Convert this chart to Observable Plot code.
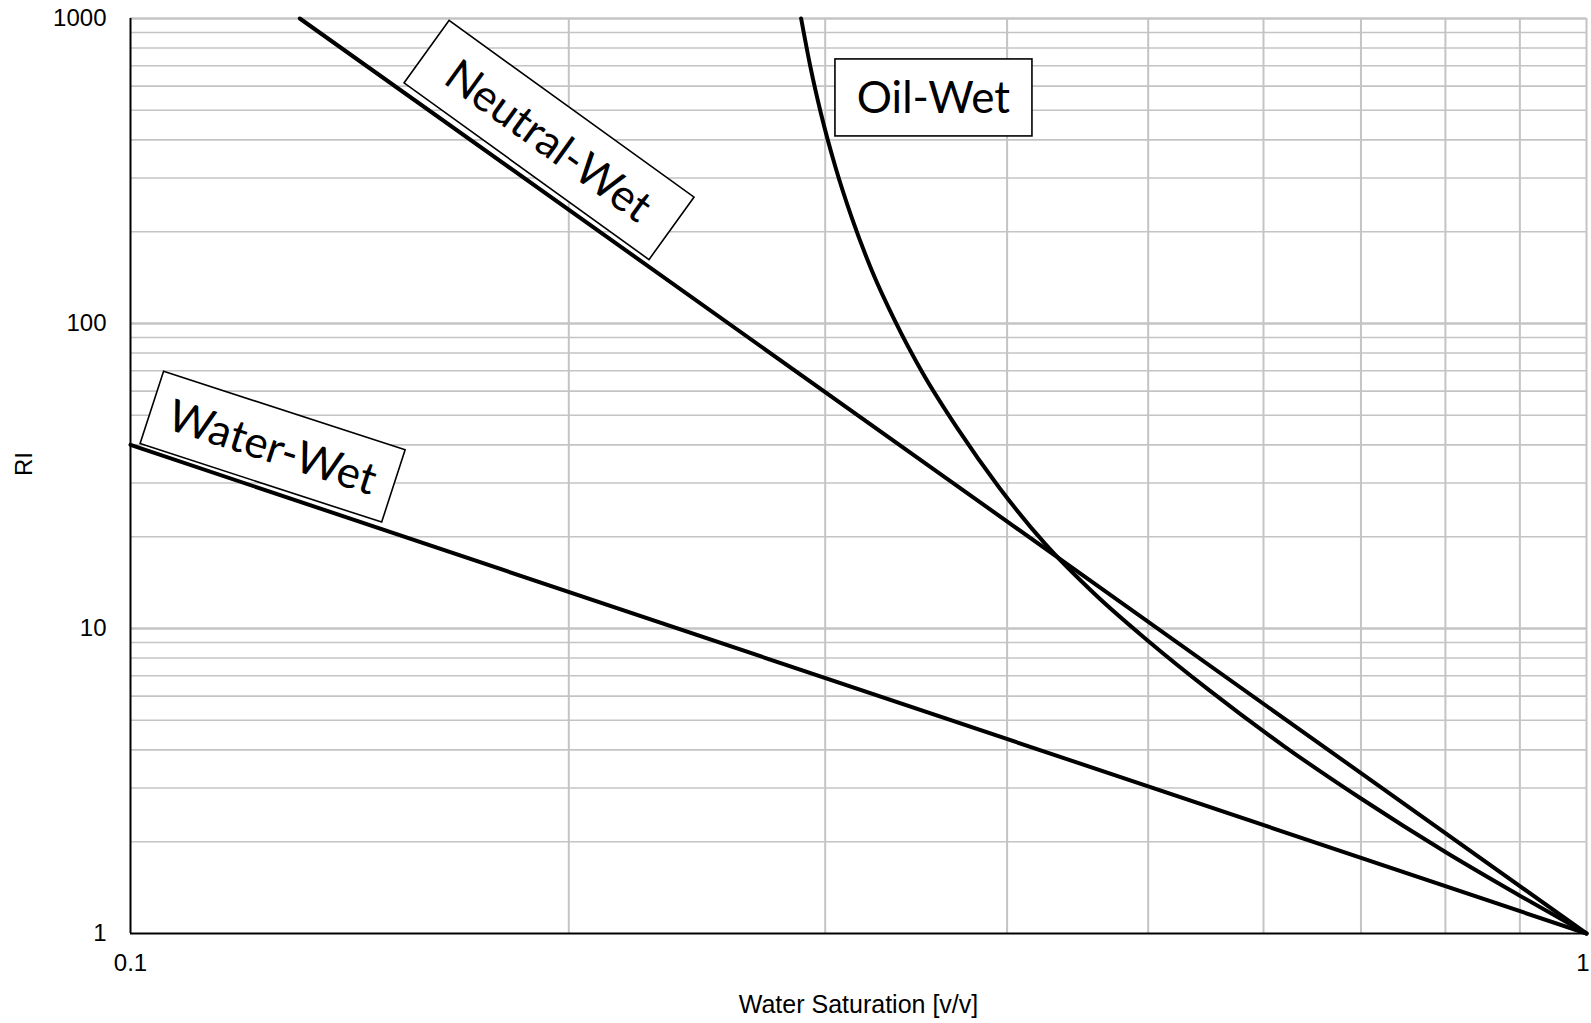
<!DOCTYPE html>
<html>
<head>
<meta charset="utf-8">
<script src="https://cdn.jsdelivr.net/npm/d3@7"></script>
<script src="https://cdn.jsdelivr.net/npm/@observablehq/plot@0.6"></script>
<style>
  html, body { margin: 0; padding: 0; background: #ffffff; }
  #chart { width: 1591px; height: 1023px; }
</style>
</head>
<body>
<div id="chart"></div>
<script>
// ---- Data ----
// Water-wet curve (straight on log-log)
const waterSw = [0.1, 1];
const waterRI = [40, 1];
// Neutral-wet curve (straight on log-log), from where it leaves the top edge
const neutralSw = [0.1307, 1];
const neutralRI = [1000, 1];
// Oil-wet curve (read point by point, smoothed estimates)
const oilSw = [0.2888, 0.293, 0.298, 0.305, 0.313, 0.323, 0.335, 0.35, 0.37, 0.395, 0.425, 0.46, 0.5, 0.55, 0.62, 0.7, 0.8, 0.9, 1];
const oilRI = [1000, 698, 488, 324, 221, 149, 102, 68.8, 45.1, 29.0, 18.9, 12.9, 9.1, 6.3, 4.11, 2.77, 1.85, 1.33, 1];

// Labels (anchored in data coordinates)
const labelText = ["Oil-Wet", "Neutral-Wet", "Water-Wet"];
const labelSw = [0.3563, 0.194, 0.1253];
const labelRI = [549, 398, 39.3];

// Tick labels and gridline values
const xTicksLeft = [0.1];
const xTicksRight = [1];
const yTicks = [1, 10, 100, 1000];
const xGridValues = [0.2, 0.3, 0.4, 0.5, 0.6, 0.7, 0.8, 0.9, 1];
const yMinorGrid = [2, 3, 4, 5, 6, 7, 8, 9, 20, 30, 40, 50, 60, 70, 80, 90, 200, 300, 400, 500, 600, 700, 800, 900];
const yMajorGrid = [10, 100, 1000];

// ---- Styles (kept apart from the data) ----
const labelAngle = [0, 35.8, 18.0];
const labelBoxW = [197, 302, 254];
const labelBoxH = [77, 77, 76];

const toRows = (xs, ys) => xs.map((x, i) => ({x, y: ys[i]}));
const water = toRows(waterSw, waterRI);
const neutral = toRows(neutralSw, neutralRI);
const oil = toRows(oilSw, oilRI);

const gridColor = "#c4c4c4";
const curveWidth = 4;

const plot = Plot.plot({
  width: 1591,
  height: 1023,
  marginLeft: 130,
  marginRight: 5,
  marginTop: 18,
  marginBottom: 90,
  style: {fontFamily: "'Liberation Sans', Arial, sans-serif", fontSize: "24px", color: "#000", background: "#fff"},
  x: {type: "log", domain: [0.1, 1]},
  y: {type: "log", domain: [1, 1000]},
  marks: [
    Plot.gridX(xGridValues, {stroke: gridColor, strokeOpacity: 1, strokeWidth: 2}),
    Plot.gridY(yMinorGrid, {stroke: gridColor, strokeOpacity: 1, strokeWidth: 1.6}),
    Plot.gridY(yMajorGrid, {stroke: gridColor, strokeOpacity: 1, strokeWidth: 2.6}),
    Plot.axisX(xTicksLeft, {tickSize: 0, tickPadding: 20, tickFormat: d => String(d), label: null, fontSize: 24}),
    Plot.axisX(xTicksRight, {tickSize: 0, tickPadding: 20, tickFormat: d => String(d), label: null, fontSize: 24, textAnchor: "end", dx: 3}),
    Plot.axisY(yTicks, {tickSize: 0, tickPadding: 24, tickFormat: d => String(d), label: null, fontSize: 24}),
    Plot.ruleX([0.1], {stroke: "#000", strokeWidth: 2}),
    Plot.ruleY([1], {stroke: "#000", strokeWidth: 2.2}),
    Plot.line(water, {x: "x", y: "y", stroke: "#000", strokeWidth: curveWidth}),
    Plot.line(neutral, {x: "x", y: "y", stroke: "#000", strokeWidth: curveWidth}),
    Plot.line(oil, {x: "x", y: "y", stroke: "#000", strokeWidth: curveWidth, curve: "monotone-x"}),
    Plot.text(["Water Saturation [v/v]"], {frameAnchor: "bottom", lineAnchor: "middle", dy: 71, fontSize: 25}),
    Plot.text(["RI"], {frameAnchor: "left", lineAnchor: "middle", dx: -106, rotate: -90, fontSize: 24})
  ]
});

document.getElementById("chart").appendChild(plot);

// ---- Boxed labels, placed through the plot's own scales ----
const xs = plot.scale("x");
const ys = plot.scale("y");
const svg = d3.select(plot);
const g = svg.append("g").attr("class", "wet-labels");
labelText.forEach((t, i) => {
  const cx = xs.apply(labelSw[i]);
  const cy = ys.apply(labelRI[i]);
  const lg = g.append("g").attr("transform", `translate(${cx},${cy}) rotate(${labelAngle[i]})`);
  lg.append("rect")
    .attr("x", -labelBoxW[i] / 2)
    .attr("y", -labelBoxH[i] / 2)
    .attr("width", labelBoxW[i])
    .attr("height", labelBoxH[i])
    .attr("fill", "#fff")
    .attr("stroke", "#000")
    .attr("stroke-width", 1.6);
  lg.append("text")
    .attr("text-anchor", "middle")
    .attr("dy", "0.36em")
    .attr("font-family", "Lato, 'Open Sans', sans-serif")
    .attr("font-size", 44)
    .attr("fill", "#000")
    .text(t);
});
</script>
</body>
</html>
